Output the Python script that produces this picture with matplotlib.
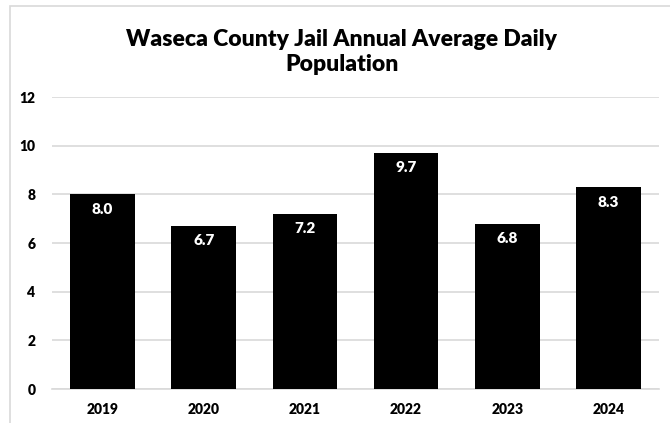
import matplotlib.pyplot as plt
from matplotlib.patches import Rectangle

years = ["2019", "2020", "2021", "2022", "2023", "2024"]
population = [8.0, 6.7, 7.2, 9.7, 6.8, 8.3]
y_ticks = [0, 2, 4, 6, 8, 10, 12]

plt.rcParams["font.family"] = ["Lato", "DejaVu Sans"]

fig = plt.figure(figsize=(6.7, 4.23), dpi=100)
ax = fig.add_axes([52 / 670, 1 - 389 / 423, 607 / 670, 292 / 423])

# light gray frame round the chart area
fig.patches.append(Rectangle((10 / 670, -0.1), 1.2, 1 - 6 / 423 + 0.1,
                             transform=fig.transFigure, fill=False,
                             edgecolor="#d9d9d9", linewidth=1.2))

x = range(len(years))
bars = ax.bar(x, population, width=0.64, color="black", zorder=3)

for xi, val in zip(x, population):
    ax.text(xi, val - 0.35, f"{val:.1f}", ha="center", va="top",
            color="white", fontsize=11, fontweight="heavy", zorder=4)

ax.set_xlim(-0.5, len(years) - 0.5)
ax.set_ylim(0, 12)
ax.set_yticks(y_ticks)
ax.set_xticks(list(x))
ax.set_xticklabels(years)
ax.tick_params(axis="both", length=0, labelsize=10, pad=10)
for lbl in ax.get_xticklabels() + ax.get_yticklabels():
    lbl.set_fontweight("heavy")
ax.tick_params(axis="y", pad=12)
ax.yaxis.grid(True, color="#d9d9d9", linewidth=1.2, zorder=0)
for side in ["top", "right", "left"]:
    ax.spines[side].set_visible(False)
ax.spines["bottom"].set_color("#d9d9d9")
ax.spines["bottom"].set_linewidth(1.2)

fig.text(0.51, 1 - 52 / 423, "Waseca County Jail Annual Average Daily\nPopulation",
         ha="center", va="center", fontsize=16.5, fontweight="heavy", linespacing=1.25)

fig.savefig("out.png", dpi=100)
